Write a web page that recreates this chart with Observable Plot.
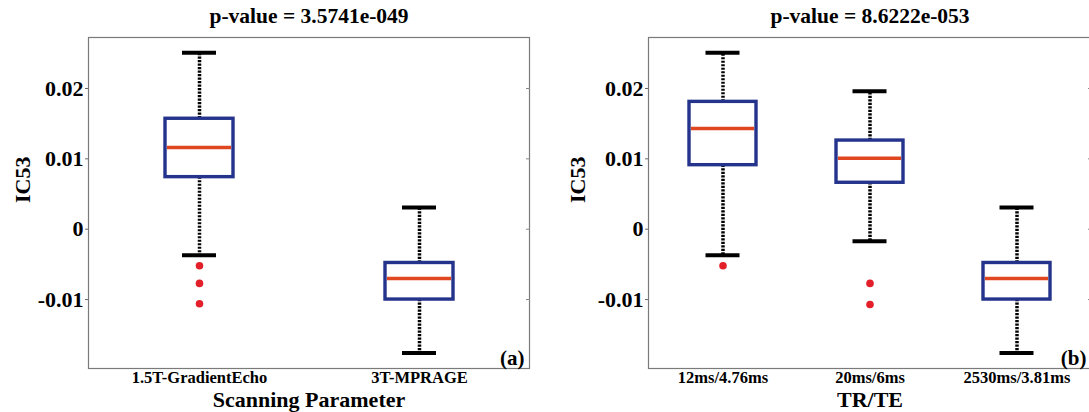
<!DOCTYPE html>
<html>
<head>
<meta charset="utf-8">
<script src="https://cdn.jsdelivr.net/npm/d3@7"></script>
<script src="https://cdn.jsdelivr.net/npm/@observablehq/plot@0.6"></script>
<style>
  html, body { margin: 0; padding: 0; background: #fff; overflow: hidden; }
  #fig { position: relative; width: 1089px; height: 412px; overflow: hidden; background: #fff; }
  #fig svg { position: absolute; top: 0; }
</style>
</head>
<body>
<div id="fig"></div>
<script>
// IC53 component loading grouped by scanning parameter (a) and by TR/TE (b)

// Shared y axis
const yTicks = [-0.01, 0, 0.01, 0.02];
const yTickLabels = ["-0.01", "0", "0.01", "0.02"];
const yDomain = [-0.0198, 0.02725];

// (a) Scanning parameter
const scanTitle = "p-value = 3.5741e-049";
const scanLabel = "Scanning Parameter";
const scanCats = ["1.5T-GradientEcho", "3T-MPRAGE"];
const scanHi  = [0.0251, 0.0031];
const scanQ3  = [0.0157, -0.0048];
const scanMed = [0.0116, -0.0070];
const scanQ1  = [0.0074, -0.0100];
const scanLo  = [-0.0037, -0.0176];
const scanOutCats = ["1.5T-GradientEcho", "1.5T-GradientEcho", "1.5T-GradientEcho"];
const scanOutVals = [-0.0052, -0.0077, -0.0106];

// (b) TR/TE
const trteTitle = "p-value = 8.6222e-053";
const trteLabel = "TR/TE";
const trteCats = ["12ms/4.76ms", "20ms/6ms", "2530ms/3.81ms"];
const trteHi  = [0.0251, 0.0196, 0.0031];
const trteQ3  = [0.0181, 0.0126, -0.0048];
const trteMed = [0.0143, 0.0101, -0.0070];
const trteQ1  = [0.0091, 0.0066, -0.0100];
const trteLo  = [-0.0037, -0.0017, -0.0176];
const trteOutCats = ["12ms/4.76ms", "20ms/6ms", "20ms/6ms"];
const trteOutVals = [-0.0052, -0.0077, -0.0107];

const FONT = "'Liberation Serif', 'Times New Roman', serif";
const BOX = "#24338c";
const MEDIAN = "#e0461f";
const OUTLIER = "#e3202a";

function boxPanel({cats, hi, q3, med, q1, lo, outCats, outVals, title, xLabel, tag,
                   width, marginLeft, marginRight, paddingInner, paddingOuter, capInset, ylabelDx}) {
  const stats = cats.map((c, i) => ({cat: c, hi: hi[i], q3: q3[i], med: med[i], q1: q1[i], lo: lo[i]}));
  const outliers = outCats.map((c, i) => ({cat: c, v: outVals[i]}));
  return Plot.plot({
    width, height: 412,
    marginLeft, marginRight, marginTop: 37, marginBottom: 44,
    style: {fontFamily: FONT, fontWeight: "bold", background: "transparent", overflow: "visible"},
    x: {type: "band", domain: cats, paddingInner, paddingOuter},
    y: {domain: yDomain},
    marks: [
      Plot.frame({stroke: "#7a7a7a", strokeWidth: 1.2}),
      Plot.axisY({ticks: yTicks, tickFormat: d => yTickLabels[yTicks.indexOf(d)],
                  tickSize: 3, tickPadding: 2, fontSize: 22, label: null,
                  stroke: "#666", fill: "#000"}),
      // inward ticks on the right edge, no labels
      Plot.axisY({anchor: "right", ticks: yTicks, tickFormat: () => "", tickSize: -4,
                  label: null, stroke: "#888"}),
      Plot.axisX({tickSize: 0, tickPadding: 3, fontSize: 16.5, label: null, fill: "#000"}),
      // whiskers
      Plot.ruleX(stats, {x: "cat", y1: "q3", y2: "hi", stroke: "#000", strokeWidth: 3.5, strokeDasharray: "2.2,1.3"}),
      Plot.ruleX(stats, {x: "cat", y1: "q1", y2: "lo", stroke: "#000", strokeWidth: 3.5, strokeDasharray: "2.2,1.3"}),
      // whisker caps
      Plot.tickY(stats, {x: "cat", y: "hi", stroke: "#000", strokeWidth: 4, insetLeft: capInset, insetRight: capInset}),
      Plot.tickY(stats, {x: "cat", y: "lo", stroke: "#000", strokeWidth: 4, insetLeft: capInset, insetRight: capInset}),
      // interquartile boxes
      Plot.barY(stats, {x: "cat", y1: "q1", y2: "q3", fill: "#fff", stroke: BOX, strokeWidth: 3.4}),
      // medians
      Plot.tickY(stats, {x: "cat", y: "med", stroke: MEDIAN, strokeWidth: 3.5, insetLeft: 2, insetRight: 2}),
      // outliers
      Plot.dot(outliers, {x: "cat", y: "v", r: 3.8, fill: OUTLIER, stroke: null}),
      // title, axis labels and panel tag
      Plot.text([title], {frameAnchor: "top", dy: -15, lineAnchor: "bottom", fontSize: 21.5, fill: "#000"}),
      Plot.text([xLabel], {frameAnchor: "bottom", dy: 38, lineAnchor: "bottom", fontSize: 22, fill: "#000"}),
      Plot.text(["IC53"], {frameAnchor: "left", dx: ylabelDx, rotate: -90,
                           lineAnchor: "middle", fontSize: 22, fill: "#000"}),
      Plot.text([tag], {frameAnchor: "bottom-right", dx: -5, dy: -4, lineAnchor: "bottom",
                        textAnchor: "end", fontSize: 21, fill: "#000"})
    ]
  });
}

const fig = document.getElementById("fig");

const left = boxPanel({
  cats: scanCats, hi: scanHi, q3: scanQ3, med: scanMed, q1: scanQ1, lo: scanLo,
  outCats: scanOutCats, outVals: scanOutVals, title: scanTitle, xLabel: scanLabel, tag: "(a)",
  width: 545, marginLeft: 88, marginRight: 16,
  paddingInner: 0.692, paddingOuter: 0.346, capInset: 17, ylabelDx: -66
});
left.style.left = "0px";
fig.appendChild(left);

const right = boxPanel({
  cats: trteCats, hi: trteHi, q3: trteQ3, med: trteMed, q1: trteQ1, lo: trteLo,
  outCats: trteOutCats, outVals: trteOutVals, title: trteTitle, xLabel: trteLabel, tag: "(b)",
  width: 546, marginLeft: 103, marginRight: 0,
  paddingInner: 0.545, paddingOuter: 0.2725, capInset: 16.5, ylabelDx: -71
});
right.style.left = "545px";
fig.appendChild(right);
</script>
</body>
</html>
